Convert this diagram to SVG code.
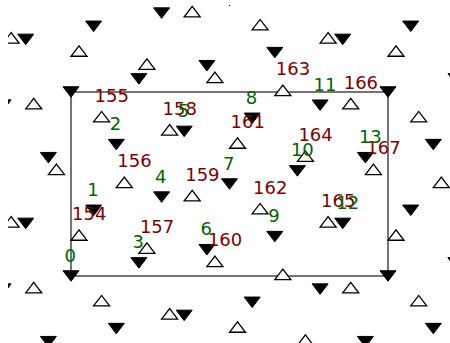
<svg xmlns="http://www.w3.org/2000/svg" xmlns:xlink="http://www.w3.org/1999/xlink" width="450" height="343" viewBox="0 0 450 343">
<style>
.dn{fill:#000;stroke:#000;stroke-width:1}
.up{fill:#fff;stroke:#000;stroke-width:1.3}
.box{fill:none;stroke:#1a1a1a;stroke-width:1.2}
text{font-family:"DejaVu Sans","Liberation Sans",sans-serif;font-size:18px}
.r{fill:#800000}
.g{fill:#006400}
</style>
<defs>
<path id="dt" class="dn" d="M-8,-5.25 H8 L0,5.25 Z"/>
<path id="ut" class="up" d="M-8,5.25 H8 L0,-5.25 Z"/>
<clipPath id="clip"><rect x="8" y="5" width="442" height="338"/></clipPath>
</defs>
<rect width="450" height="343" fill="#fff"/>
<g id="connectors">
<rect class="box" x="71" y="92" width="317" height="184"/>
</g>
<g id="down-triangles" clip-path="url(#clip)">
<use href="#dt" x="25.7" y="39.4"/>
<use href="#dt" x="93.6" y="26.3"/>
<use href="#dt" x="161.6" y="13.1"/>
<use href="#dt" x="229.5" y="0.5"/>
<use href="#dt" x="3.1" y="105.1"/>
<use href="#dt" x="71" y="92"/>
<use href="#dt" x="138.9" y="78.9"/>
<use href="#dt" x="206.9" y="65.7"/>
<use href="#dt" x="274.8" y="52.6"/>
<use href="#dt" x="342.7" y="39.4"/>
<use href="#dt" x="410.7" y="26.3"/>
<use href="#dt" x="48.4" y="157.7"/>
<use href="#dt" x="116.3" y="144.6"/>
<use href="#dt" x="184.2" y="131.4"/>
<use href="#dt" x="252.2" y="118.3"/>
<use href="#dt" x="320.1" y="105.2"/>
<use href="#dt" x="388" y="92"/>
<use href="#dt" x="456" y="78.9"/>
<use href="#dt" x="25.7" y="223.4"/>
<use href="#dt" x="93.7" y="210.3"/>
<use href="#dt" x="161.6" y="197.1"/>
<use href="#dt" x="229.5" y="184"/>
<use href="#dt" x="297.4" y="170.9"/>
<use href="#dt" x="365.4" y="157.7"/>
<use href="#dt" x="433.3" y="144.6"/>
<use href="#dt" x="3.1" y="289.1"/>
<use href="#dt" x="71" y="276"/>
<use href="#dt" x="138.9" y="262.9"/>
<use href="#dt" x="206.9" y="249.7"/>
<use href="#dt" x="274.8" y="236.6"/>
<use href="#dt" x="342.7" y="223.4"/>
<use href="#dt" x="410.7" y="210.3"/>
<use href="#dt" x="48.4" y="341.7"/>
<use href="#dt" x="116.3" y="328.6"/>
<use href="#dt" x="184.2" y="315.4"/>
<use href="#dt" x="252.2" y="302.3"/>
<use href="#dt" x="320.1" y="289.1"/>
<use href="#dt" x="388" y="276"/>
<use href="#dt" x="455.9" y="262.9"/>
<use href="#dt" x="365.4" y="341.7"/>
<use href="#dt" x="433.3" y="328.6"/>
</g>
<g id="up-triangles" clip-path="url(#clip)">
<use href="#ut" x="11.1" y="37.9"/>
<use href="#ut" x="79" y="51"/>
<use href="#ut" x="146.9" y="64.1"/>
<use href="#ut" x="214.9" y="77.3"/>
<use href="#ut" x="282.8" y="90.4"/>
<use href="#ut" x="350.7" y="103.6"/>
<use href="#ut" x="418.7" y="116.7"/>
<use href="#ut" x="192.2" y="11.6"/>
<use href="#ut" x="260.1" y="24.7"/>
<use href="#ut" x="328.1" y="37.9"/>
<use href="#ut" x="396" y="51"/>
<use href="#ut" x="33.7" y="103.6"/>
<use href="#ut" x="101.6" y="116.7"/>
<use href="#ut" x="169.6" y="129.9"/>
<use href="#ut" x="237.5" y="143"/>
<use href="#ut" x="305.4" y="156.2"/>
<use href="#ut" x="373.4" y="169.3"/>
<use href="#ut" x="441.3" y="182.4"/>
<use href="#ut" x="56.4" y="169.3"/>
<use href="#ut" x="124.3" y="182.4"/>
<use href="#ut" x="192.2" y="195.6"/>
<use href="#ut" x="260.1" y="208.7"/>
<use href="#ut" x="328.1" y="221.8"/>
<use href="#ut" x="396" y="235"/>
<use href="#ut" x="11.1" y="221.9"/>
<use href="#ut" x="79" y="235"/>
<use href="#ut" x="146.9" y="248.1"/>
<use href="#ut" x="214.9" y="261.3"/>
<use href="#ut" x="282.8" y="274.4"/>
<use href="#ut" x="350.7" y="287.6"/>
<use href="#ut" x="418.7" y="300.7"/>
<use href="#ut" x="33.7" y="287.6"/>
<use href="#ut" x="101.6" y="300.7"/>
<use href="#ut" x="169.6" y="313.8"/>
<use href="#ut" x="237.5" y="327"/>
<use href="#ut" x="305.4" y="340.1"/>
</g>
<g id="labels-up">
<text class="r" x="72" y="220">154</text>
<text class="r" x="94.6" y="101.7">155</text>
<text class="r" x="117.3" y="167.4">156</text>
<text class="r" x="139.9" y="233.1">157</text>
<text class="r" x="162.6" y="114.9">158</text>
<text class="r" x="185.2" y="180.6">159</text>
<text class="r" x="207.9" y="246.3">160</text>
<text class="r" x="230.5" y="128">161</text>
<text class="r" x="253.1" y="193.7">162</text>
<text class="r" x="275.8" y="75.4">163</text>
<text class="r" x="298.4" y="141.2">164</text>
<text class="r" x="321.1" y="206.8">165</text>
<text class="r" x="343.7" y="88.6">166</text>
<text class="r" x="366.4" y="154.3">167</text>
</g>
<g id="labels-down">
<text class="g" x="64.5" y="261.5">0</text>
<text class="g" x="87.2" y="195.8">1</text>
<text class="g" x="109.8" y="130.1">2</text>
<text class="g" x="132.4" y="248.4">3</text>
<text class="g" x="155.1" y="182.6">4</text>
<text class="g" x="177.7" y="116.9">5</text>
<text class="g" x="200.4" y="235.2">6</text>
<text class="g" x="223" y="169.5">7</text>
<text class="g" x="245.7" y="103.8">8</text>
<text class="g" x="268.3" y="222.1">9</text>
<text class="g" x="290.9" y="156.4">10</text>
<text class="g" x="313.6" y="90.7">11</text>
<text class="g" x="336.2" y="208.9">12</text>
<text class="g" x="358.9" y="143.2">13</text>
</g>
</svg>
